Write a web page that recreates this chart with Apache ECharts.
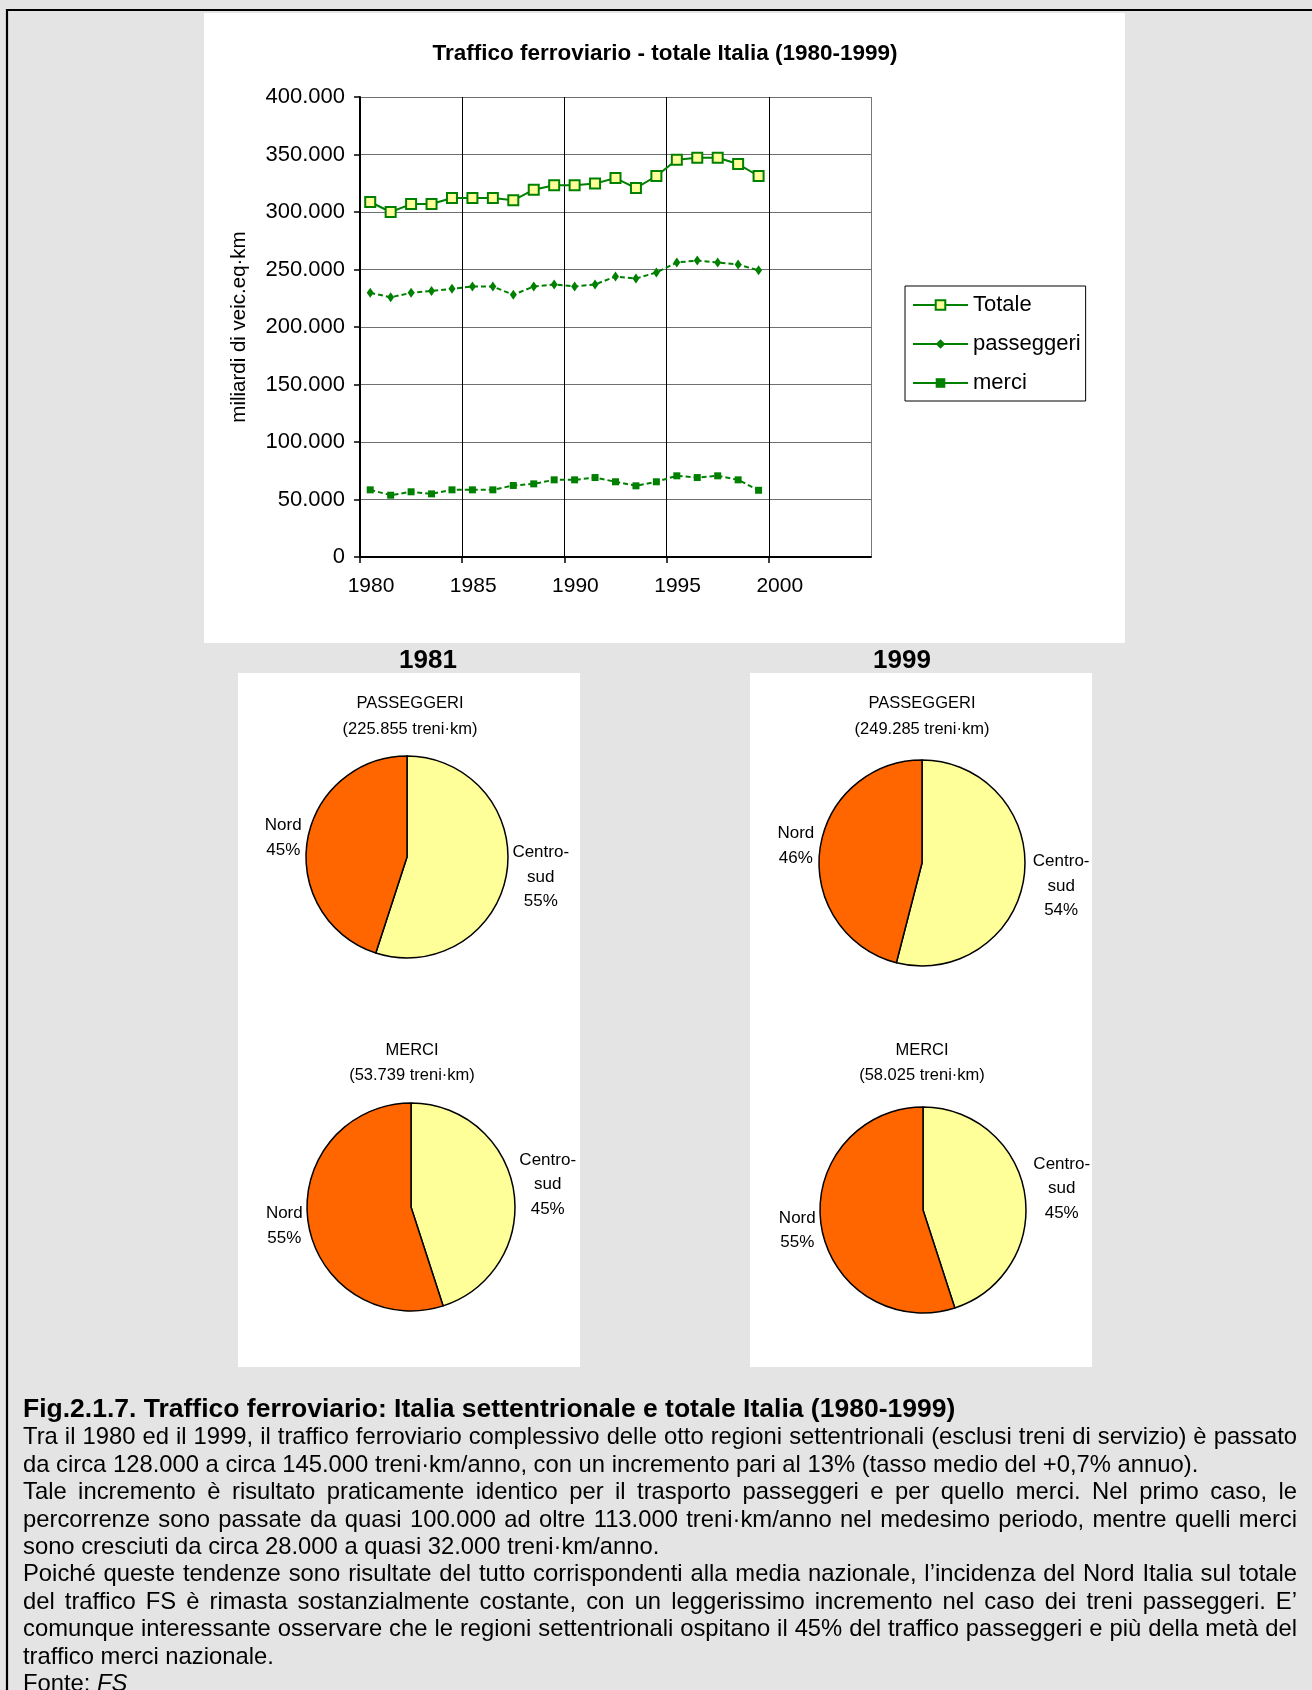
<!DOCTYPE html>
<html><head><meta charset="utf-8">
<script src="https://cdn.jsdelivr.net/npm/echarts@6/dist/echarts.min.js"></script>
<style>
html,body{margin:0;padding:0;background:#e4e4e4;overflow:hidden;width:1312px;height:1690px;}
#chart{position:absolute;left:0;top:0;width:1312px;height:1690px;}
#caption{position:absolute;left:23px;top:1395px;width:1274px;font-family:"Liberation Sans",Arial,sans-serif;font-size:23.8px;color:#000;}
#caption div{line-height:27.4px;}
.j{text-align:justify;text-align-last:justify;}
.b{font-weight:bold;font-size:26.5px;}
</style></head><body>
<div id="chart"></div>
<div id="caption">
<div class="b">Fig.2.1.7. Traffico ferroviario: Italia settentrionale e totale Italia (1980-1999)</div>
<div class="j">Tra il 1980 ed il 1999, il traffico ferroviario complessivo delle otto regioni settentrionali (esclusi treni di servizio) è passato</div>
<div>da circa 128.000 a circa 145.000 treni·km/anno, con un incremento pari al 13% (tasso medio del +0,7% annuo).</div>
<div class="j">Tale incremento è risultato praticamente identico per il trasporto passeggeri e per quello merci. Nel primo caso, le</div>
<div class="j">percorrenze sono passate da quasi 100.000 ad oltre 113.000 treni·km/anno nel medesimo periodo, mentre quelli merci</div>
<div>sono cresciuti da circa 28.000 a quasi 32.000 treni·km/anno.</div>
<div class="j">Poiché queste tendenze sono risultate del tutto corrispondenti alla media nazionale, l’incidenza del Nord Italia sul totale</div>
<div class="j">del traffico FS è rimasta sostanzialmente costante, con un leggerissimo incremento nel caso dei treni passeggeri. E’</div>
<div class="j">comunque interessante osservare che le regioni settentrionali ospitano il 45% del traffico passeggeri e più della metà del</div>
<div>traffico merci nazionale.</div>
<div>Fonte: <i>FS</i></div>
</div>
<script>
// ---- data ----
const years = [1980,1981,1982,1983,1984,1985,1986,1987,1988,1989,1990,1991,1992,1993,1994,1995,1996,1997,1998,1999];
const totale = [308700,300000,306900,306900,312200,312200,312200,310200,319400,323200,323200,324700,329500,320800,331300,345500,347200,347200,341700,331300];
const passeggeri = [229700,225855,229700,231400,233200,235200,235200,228000,235200,237000,235200,237000,243900,242200,247400,256100,257800,256100,254300,249285];
const merci = [58400,53739,56700,54900,58400,58400,58400,62200,63600,67100,67100,69100,65400,61900,65400,70600,69100,70600,67100,58025];
const seriesNames = ['Totale','passeggeri','merci'];
const pieRegions = ['Centro-sud','Nord'];
const pass1981Share = [55,45];
const pass1999Share = [54,46];
const merci1981Share = [45,55];
const merci1999Share = [45,55];
const pieYears = [1981,1999];

// keep caption lines on one line each
document.querySelectorAll('#caption div').forEach(el => {
  let ls = 0;
  while (el.offsetHeight > 32 && ls > -3) { ls -= 0.05; el.style.letterSpacing = ls + 'px'; }
});

const FONT = '"Liberation Sans", Arial, sans-serif';
const fmt = v => Math.round(v).toString().replace(/\B(?=(\d{3})+(?!\d))/g, '.');
const idx = y => years.indexOf(y);
const GREEN = '#008000';

function pieSeries(share, center, radius, shift) {
  return {
    type: 'pie', center: center, radius: radius, startAngle: 90, clockwise: true,
    silent: true, avoidLabelOverlap: false, emphasis: {disabled: true},
    color: ['#FFFF99', '#FF6600'],
    itemStyle: {borderColor: '#000', borderWidth: 1.5},
    label: {
      show: true, position: 'outside', distanceToLabelLine: 3, color: '#000',
      fontFamily: FONT, fontSize: 17,
      formatter: p => {
        const parts = p.name.split('-');
        const key = parts.length > 1 ? 'c' : 'n';
        const lines = parts.length > 1 ? [parts[0] + '-', parts[1]] : [p.name];
        lines.push(Math.round(p.percent) + '%');
        return lines.map(s => '{' + key + '|' + s + '}').join('\n');
      },
      rich: {
        c: {fontSize: 17, lineHeight: 24.5, width: 58, align: 'center', color: '#000', fontFamily: FONT},
        n: {fontSize: 17, lineHeight: 24.5, width: 38, align: 'center', color: '#000', fontFamily: FONT}
      }
    },
    labelLine: {show: false, length: 2, length2: 0},
    labelLayout: p => ({dx: shift[p.dataIndex][0], dy: shift[p.dataIndex][1]}),
    data: pieRegions.map((n, i) => ({name: n, value: share[i]}))
  };
}

function txt(x, y, text, size, weight, lh) {
  return {type: 'text', x: x, y: y, z: 5, style: {text: text, fill: '#000', align: 'center', verticalAlign: 'middle',
    fontSize: size, fontWeight: weight || 'normal', fontFamily: FONT, lineHeight: lh || size}};
}

const chart = echarts.init(document.getElementById('chart'), null, {renderer: 'canvas'});
const option = {
  animation: false,
  backgroundColor: '#e4e4e4',
  textStyle: {fontFamily: FONT},
  graphic: [
    {type: 'rect', z: -10, shape: {x: 204, y: 13, width: 921, height: 630}, style: {fill: '#fff'}},
    {type: 'rect', z: -10, shape: {x: 238, y: 673, width: 342, height: 694}, style: {fill: '#fff'}},
    {type: 'rect', z: -10, shape: {x: 750, y: 673, width: 342, height: 694}, style: {fill: '#fff'}},
    {type: 'line', z: 10, shape: {x1: 6, y1: 10, x2: 1312, y2: 10}, style: {stroke: '#000', lineWidth: 2.2}},
    {type: 'line', z: 10, shape: {x1: 7, y1: 9, x2: 7, y2: 1690}, style: {stroke: '#000', lineWidth: 2.2}},
    txt(665, 54, 'Traffico ferroviario - totale Italia (1980-1999)', 22.5, 'bold'),
    txt(428, 661, String(pieYears[0]), 26, 'bold'),
    txt(902, 661, String(pieYears[1]), 26, 'bold'),
    txt(410, 716, 'PASSEGGERI\n(' + fmt(passeggeri[idx(pieYears[0])]) + ' treni·km)', 16.5, 'normal', 26),
    txt(922, 716, 'PASSEGGERI\n(' + fmt(passeggeri[idx(pieYears[1])]) + ' treni·km)', 16.5, 'normal', 26),
    txt(412, 1063, 'MERCI\n(' + fmt(merci[idx(pieYears[0])]) + ' treni·km)', 16.5, 'normal', 24.5),
    txt(922, 1063, 'MERCI\n(' + fmt(merci[idx(pieYears[1])]) + ' treni·km)', 16.5, 'normal', 24.5)
  ],
  grid: {left: 360, top: 97, width: 511, height: 460, containLabel: false},
  legend: {
    orient: 'vertical', left: 905, top: 286, itemWidth: 55, itemHeight: 12, itemGap: 17,
    padding: [8, 5, 7, 7], borderColor: '#000', borderWidth: 1, backgroundColor: '#fff',
    selectedMode: false, textStyle: {fontSize: 22, color: '#000', fontFamily: FONT},
    lineStyle: {type: 'solid'},
    data: seriesNames
  },
  xAxis: {
    type: 'value', min: 1980, max: 2005, interval: 5,
    axisLine: {show: true, onZero: false, lineStyle: {color: '#000', width: 2}},
    axisTick: {show: true, length: 6, lineStyle: {color: '#000', width: 1.5}},
    axisLabel: {fontSize: 21, color: '#000', fontFamily: FONT, margin: 19, padding: [0, 0, 0, 22], showMaxLabel: false, formatter: v => String(v)},
    splitLine: {show: true, lineStyle: {color: ['#000', '#000', '#000', '#000', '#000', '#777'], width: 1}}
  },
  yAxis: {
    type: 'value', min: 0, max: 400000, interval: 50000,
    name: 'miliardi di veic.eq·km', nameLocation: 'middle', nameGap: 110, nameRotate: 90,
    nameTextStyle: {fontSize: 20.5, color: '#000', fontFamily: FONT},
    axisLine: {show: true, lineStyle: {color: '#000', width: 2}},
    axisTick: {show: true, length: 6, lineStyle: {color: '#000', width: 1.5}},
    axisLabel: {fontSize: 22, color: '#000', fontFamily: FONT, margin: 15, formatter: v => fmt(v)},
    splitLine: {show: true, lineStyle: {color: '#707070', width: 1}}
  },
  series: [
    {type: 'line', name: seriesNames[0], data: years.map((y, i) => [y + 0.5, totale[i]]), z: 4,
     symbol: 'rect', symbolSize: 10, itemStyle: {color: '#FFFF99', borderColor: GREEN, borderWidth: 2},
     lineStyle: {color: GREEN, width: 2}, emphasis: {disabled: true}},
    {type: 'line', name: seriesNames[1], data: years.map((y, i) => [y + 0.5, passeggeri[i]]), z: 3,
     symbol: 'diamond', symbolSize: [7, 10], itemStyle: {color: GREEN},
     lineStyle: {color: GREEN, width: 2, type: [5, 3]}, emphasis: {disabled: true}},
    {type: 'line', name: seriesNames[2], data: years.map((y, i) => [y + 0.5, merci[i]]), z: 3,
     symbol: 'rect', symbolSize: 7, itemStyle: {color: GREEN},
     lineStyle: {color: GREEN, width: 2, type: [5, 3]}, emphasis: {disabled: true}},
    pieSeries(pass1981Share, [407, 857], 101, [[0, 4], [0, -3]]),
    pieSeries(pass1999Share, [922, 863], 103, [[3, 10], [0, -4]]),
    pieSeries(merci1981Share, [411, 1207], 104, [[0, -6], [0, 2]]),
    pieSeries(merci1999Share, [923, 1210], 103, [[3, -5], [0, 4]])
  ]
};
chart.setOption(option);
</script>
</body></html>
